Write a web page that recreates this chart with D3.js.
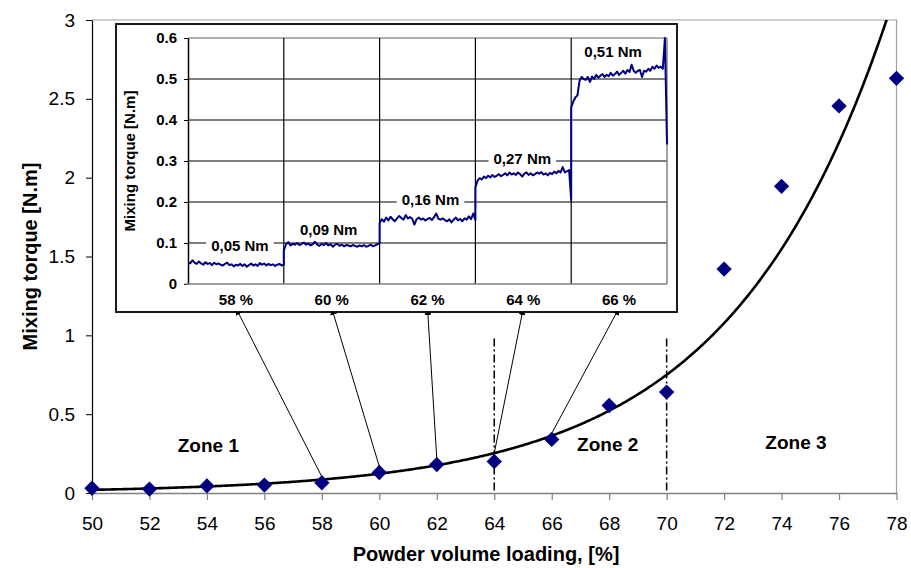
<!DOCTYPE html>
<html><head><meta charset="utf-8">
<script src="https://cdn.jsdelivr.net/npm/d3@7"></script>
<style>
body{margin:0;background:#fff}
text{font-family:"Liberation Sans",Arial,sans-serif}
</style>
</head><body>
<svg id="c" width="911" height="568"></svg>
<script>
// ---------- main chart data ----------
const loading = [50,52,54,56,58,60,62,64,66,68,70,72,74,76,78];
const torque  = [0.03,0.025,0.045,0.05,0.065,0.13,0.18,0.20,0.34,0.555,0.64,1.42,1.945,2.455,2.63];
const xTicks  = [50,52,54,56,58,60,62,64,66,68,70,72,74,76,78];
const yTicks  = [0,0.5,1,1.5,2,2.5,3];
const zoneBounds = [64,70];
const zoneNames  = ["Zone 1","Zone 2","Zone 3"];

// ---------- inset data ----------
const insetCats   = ["58 %","60 %","62 %","64 %","66 %"];
const insetLoad   = [58,60,62,64,66];
const insetYTicks = [0,0.1,0.2,0.3,0.4,0.5,0.6];
const levelLabels = ["0,05 Nm","0,09 Nm","0,16 Nm","0,27 Nm","0,51 Nm"];
const trace58 = [0.053,0.050,0.058,0.052,0.049,0.055,0.050,0.047,0.053,0.049,0.051,0.046,0.052,0.048,0.050,0.047,0.045,0.049,0.052,0.046,0.048,0.043,0.047,0.045,0.049,0.044,0.048,0.042,0.046,0.050,0.045,0.048,0.044,0.051,0.047,0.050,0.045,0.049,0.046,0.048,0.044,0.047,0.049,0.045,0.047];
const trace60 = [0.082,0.097,0.102,0.094,0.098,0.096,0.100,0.095,0.098,0.101,0.096,0.099,0.094,0.097,0.103,0.096,0.093,0.098,0.095,0.100,0.094,0.097,0.091,0.096,0.098,0.093,0.096,0.092,0.095,0.094,0.092,0.095,0.093,0.091,0.094,0.092,0.095,0.091,0.093,0.096,0.092,0.094,0.097,0.099];
const trace62 = [0.148,0.158,0.152,0.162,0.155,0.164,0.158,0.153,0.160,0.166,0.161,0.157,0.168,0.160,0.163,0.159,0.145,0.158,0.162,0.157,0.160,0.155,0.158,0.161,0.156,0.163,0.172,0.159,0.157,0.160,0.156,0.153,0.158,0.150,0.157,0.162,0.155,0.159,0.153,0.160,0.157,0.165,0.158,0.172,0.156];
const trace64 = [0.235,0.252,0.258,0.255,0.262,0.258,0.264,0.260,0.266,0.261,0.264,0.268,0.263,0.266,0.270,0.265,0.272,0.267,0.270,0.266,0.272,0.268,0.262,0.269,0.272,0.266,0.270,0.265,0.268,0.272,0.269,0.273,0.267,0.270,0.265,0.271,0.268,0.274,0.270,0.276,0.272,0.285,0.272,0.275,0.278,0.205];
const trace66 = [0.43,0.445,0.455,0.46,0.495,0.505,0.50,0.498,0.505,0.493,0.506,0.50,0.51,0.503,0.508,0.512,0.505,0.51,0.507,0.515,0.508,0.512,0.518,0.51,0.515,0.52,0.513,0.522,0.517,0.535,0.52,0.515,0.52,0.522,0.505,0.52,0.518,0.525,0.52,0.53,0.525,0.533,0.527,0.53,0.525,0.6,0.34];
const traces = [trace58,trace60,trace62,trace64,trace66];

// ---------- drawing ----------
const svg = d3.select("#c");
const navy = "#000080";
const FONT = "'Liberation Sans',Arial,sans-serif";
const x = d3.scaleLinear().domain([50,78]).range([92,896.5]);
const y = d3.scaleLinear().domain([0,3]).range([493,20]);

// plot frame (top/right grey)
svg.append("path")
  .attr("d",`M${x(50)},${y(3)}H${x(78)}V${y(0)}`)
  .attr("fill","none").attr("stroke","#a0a0a0").attr("stroke-width",1.2);

// x axis
const gx = svg.append("g").attr("transform",`translate(0,${y(0)})`)
  .call(d3.axisBottom(x).tickValues(xTicks).tickSize(7).tickPadding(17).tickSizeOuter(0).tickFormat(d=>String(d)));
gx.select(".domain").attr("stroke","#808080").attr("stroke-width",1.5);
gx.selectAll(".tick line").attr("stroke","#808080").attr("stroke-width",1.2);
gx.selectAll("text").attr("font-size",19).attr("fill","#000").style("font-family",FONT);

// y axis
const gy = svg.append("g").attr("transform",`translate(${x(50)},0)`)
  .call(d3.axisLeft(y).tickValues(yTicks).tickSize(6).tickPadding(11).tickSizeOuter(0).tickFormat(d=>String(d)));
gy.select(".domain").attr("stroke","#000").attr("stroke-width",1.2);
gy.selectAll(".tick line").attr("stroke","#000");
gy.selectAll("text").attr("font-size",19).attr("fill","#000").style("font-family",FONT);

// axis titles
svg.append("text").attr("x",486).attr("y",561)
  .attr("text-anchor","middle").attr("font-size",20).attr("font-weight","bold")
  .text("Powder volume loading, [%]");
svg.append("text").attr("transform",`translate(37,${(y(0)+y(3))/2}) rotate(-90)`)
  .attr("text-anchor","middle").attr("font-size",20).attr("font-weight","bold")
  .text("Mixing torque [N.m]");

// zone boundaries (dash-dot)
svg.selectAll(".zb").data(zoneBounds).join("line")
  .attr("x1",d=>x(d)).attr("x2",d=>x(d)).attr("y1",y(0.98)).attr("y2",y(0))
  .attr("stroke","#000").attr("stroke-width",1.5).attr("stroke-dasharray","8,3,2,3");

// zone labels
const zoneAnchors = [[54.05,0.3],[67.95,0.31],[74.5,0.32]];
svg.selectAll(".zl").data(zoneNames).join("text")
  .attr("x",(d,i)=>x(zoneAnchors[i][0])).attr("y",(d,i)=>y(zoneAnchors[i][1]))
  .attr("text-anchor","middle").attr("dominant-baseline","central")
  .attr("font-size",19).attr("font-weight","bold").text(d=>d);

// exponential trendline fitted (least squares on ln y) from the data
const lnY = torque.map(Math.log);
const mx = d3.mean(loading), my = d3.mean(lnY);
const b = d3.sum(loading,(v,i)=>(v-mx)*(lnY[i]-my)) / d3.sum(loading,v=>(v-mx)*(v-mx));
const a = Math.exp(my - b*mx);
const fitX = d3.range(50,78.001,0.05);
svg.append("clipPath").attr("id","pc").append("rect")
  .attr("x",x(50)).attr("y",y(3)).attr("width",x(78)-x(50)).attr("height",y(0)-y(3));
svg.append("path").datum(fitX)
  .attr("clip-path","url(#pc)")
  .attr("d",d3.line().x(d=>x(d)).y(d=>y(a*Math.exp(b*d))))
  .attr("fill","none").attr("stroke","#000").attr("stroke-width",2.6);

// markers
svg.selectAll(".pt").data(loading).join("path")
  .attr("transform",(d,i)=>`translate(${x(d)},${y(torque[i])}) rotate(45)`)
  .attr("d",d3.symbol(d3.symbolSquare,118)())
  .attr("fill",navy);

// ---------- inset ----------
const box = {x0:116,y0:24,x1:677,y1:312};
const ix = d3.scaleBand().domain(insetCats).range([188,667]).padding(0);
const iy = d3.scaleLinear().domain([0,0.6]).range([284,38]);

// arrows from markers to inset labels
const defs = svg.append("defs");
defs.append("marker").attr("id","arr").attr("viewBox","0 0 10 10").attr("refX",10).attr("refY",5)
  .attr("markerWidth",7).attr("markerHeight",7).attr("orient","auto-start-reverse")
  .append("path").attr("d","M0,0L10,5L0,10z").attr("fill","#000");

svg.selectAll(".ar").data(insetLoad).join("line")
  .attr("x1",d=>x(d)).attr("y1",(d,i)=>{
     const k = loading.indexOf(d);
     return d===64 ? y(a*Math.exp(b*d)) : y(torque[k])-6;})
  .attr("x2",(d,i)=>ix(insetCats[i])+ix.bandwidth()/2).attr("y2",box.y1-4)
  .attr("stroke","#000").attr("stroke-width",1).attr("marker-end","url(#arr)");

svg.append("rect").attr("x",box.x0).attr("y",box.y0)
  .attr("width",box.x1-box.x0).attr("height",box.y1-box.y0)
  .attr("fill","#fff").attr("stroke","#000").attr("stroke-width",1.8);

// inset gridlines
const ig = svg.append("g");
ig.selectAll(".hg").data(insetYTicks.filter(v=>v>0)).join("line")
  .attr("x1",188).attr("x2",667).attr("y1",d=>iy(d)).attr("y2",d=>iy(d))
  .attr("stroke",(d)=>d===0.6?"#606060":"#000").attr("stroke-width",1.2);
ig.selectAll(".vg").data(insetCats.slice(1)).join("line")
  .attr("x1",d=>ix(d)).attr("x2",d=>ix(d)).attr("y1",iy(0.6)).attr("y2",iy(0))
  .attr("stroke","#000").attr("stroke-width",1.2);
ig.append("line").attr("x1",667).attr("x2",667).attr("y1",iy(0.6)).attr("y2",iy(0))
  .attr("stroke","#808080").attr("stroke-width",1.5);

// inset axes
const igy = svg.append("g").attr("transform","translate(188,0)")
  .call(d3.axisLeft(iy).tickValues(insetYTicks).tickSize(4).tickPadding(7).tickSizeOuter(0)
        .tickFormat(d=>d===0?"0":d3.format(".1f")(d)));
igy.select(".domain").attr("stroke","#000").attr("stroke-width",1.5);
igy.selectAll("text").attr("font-size",15).attr("font-weight","bold").attr("fill","#000")
  .style("font-family",FONT);
svg.append("line").attr("x1",185).attr("x2",667).attr("y1",iy(0)).attr("y2",iy(0))
  .attr("stroke","#808080").attr("stroke-width",1.5);

svg.selectAll(".ic").data(insetCats).join("text")
  .attr("x",d=>ix(d)+ix.bandwidth()/2).attr("y",305)
  .attr("text-anchor","middle").attr("font-size",15).attr("font-weight","bold").text(d=>d);

svg.append("text").attr("transform",`translate(135,${(iy(0)+iy(0.6))/2}) rotate(-90)`)
  .attr("text-anchor","middle").attr("font-size",15).attr("font-weight","bold")
  .text("Mixing torque [N.m]");

// inset trace
const pts = [];
traces.forEach((tr,i)=>{
  const x0 = ix(insetCats[i]), w = ix.bandwidth();
  tr.forEach((v,j)=>pts.push([x0 + w*j/(tr.length-1), v]));
});
svg.append("clipPath").attr("id","ic").append("rect")
  .attr("x",188).attr("y",iy(0.6)-1).attr("width",667-188+1).attr("height",iy(0)-iy(0.6)+1);
svg.append("path").datum(pts).attr("clip-path","url(#ic)")
  .attr("d",d3.line().x(d=>d[0]).y(d=>iy(d[1])))
  .attr("fill","none").attr("stroke",navy).attr("stroke-width",2).attr("stroke-linejoin","round");

// level labels with white background
const levelAnchor = [[4,0.093],[-3,0.134],[3,0.205],[-1,0.307],[-6,0.566]];
levelLabels.forEach((t,i)=>{
  const g = svg.append("g");
  const tx = g.append("text")
    .attr("x",ix(insetCats[i])+ix.bandwidth()/2+levelAnchor[i][0])
    .attr("y",iy(levelAnchor[i][1]))
    .attr("text-anchor","middle").attr("dominant-baseline","central")
    .attr("font-size",15).attr("font-weight","bold").text(t);
  const bb = tx.node().getBBox();
  g.insert("rect","text").attr("x",bb.x-5).attr("y",bb.y+2).attr("width",bb.width+10).attr("height",bb.height-4)
    .attr("fill","#fff");
});
</script>
</body></html>
